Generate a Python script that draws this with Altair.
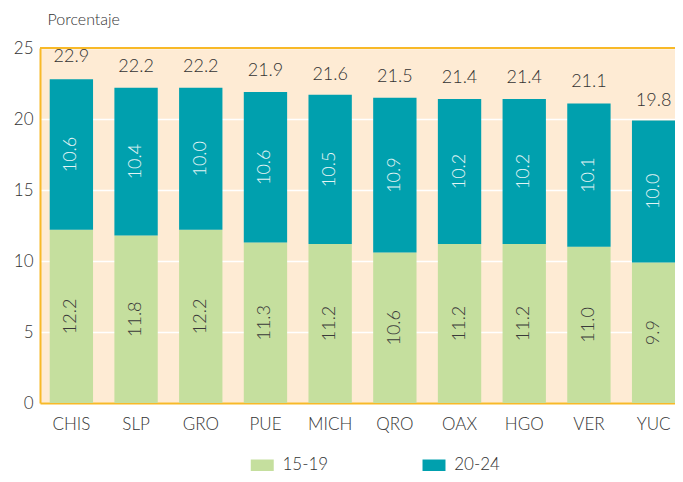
import altair as alt
import pandas as pd

estados = ["CHIS", "SLP", "GRO", "PUE", "MICH", "QRO", "OAX", "HGO", "VER", "YUC"]
g15_19 = [12.2, 11.8, 12.2, 11.3, 11.2, 10.6, 11.2, 11.2, 11.0, 9.9]
g20_24 = [10.6, 10.4, 10.0, 10.6, 10.5, 10.9, 10.2, 10.2, 10.1, 10.0]
totales = [22.9, 22.2, 22.2, 21.9, 21.6, 21.5, 21.4, 21.4, 21.1, 19.8]
grupos = ["15-19", "20-24"]
colores = ["#C5DF9E", "#00A0AE"]

rows = []
for e, a, b in zip(estados, g15_19, g20_24):
    rows.append({"estado": e, "grupo": grupos[0], "valor": a, "y0": 0.0, "y1": a})
    rows.append({"estado": e, "grupo": grupos[1], "valor": b, "y0": a, "y1": a + b})
df = pd.DataFrame(rows)
df["mid"] = (df["y0"] + df["y1"]) / 2
df_tot = pd.DataFrame({"estado": estados, "total": totales})

FONT = "Lato"
W = 300
TXT = "#333333"
BORDER = "#F8B928"

x = alt.X(
    "estado:N",
    sort=estados,
    title=None,
    scale=alt.Scale(range=[0, 645], paddingInner=0.33, paddingOuter=0.15),
    axis=alt.Axis(labelAngle=0, ticks=False, domain=True, domainColor=BORDER,
                  domainWidth=2, labelPadding=13,
                  labelFontSize=17, labelColor=TXT, labelFont=FONT,
                  labelFontWeight=W, grid=False),
)

yscale = alt.Scale(domain=[0, 25], nice=False)

bars = alt.Chart(df).mark_bar().encode(
    x=x,
    y=alt.Y(
        "y1:Q",
        scale=yscale,
        axis=alt.Axis(
            values=[0, 5, 10, 15, 20, 25], ticks=False, domain=True,
            domainColor=BORDER, domainWidth=2,
            labelFontSize=17, labelColor=TXT, labelFont=FONT, labelFontWeight=W,
            labelPadding=7,
            grid=True, gridColor="#FFFFFF", gridWidth=1.5,
            title="Porcentaje", titleAngle=0, titleAlign="left", titleBaseline="top",
            titleX=7, titleY=-37, titleFontSize=16, titleFontWeight=W,
            titleColor=TXT, titleFont=FONT,
        ),
    ),
    y2="y0:Q",
    color=alt.Color(
        "grupo:N",
        scale=alt.Scale(domain=grupos, range=colores),
        legend=alt.Legend(
            title=None, orient="none", direction="horizontal",
            legendX=213.75, legendY=408.5, padding=0,
            symbolType="M-2,-1H2V1H-2Z", symbolSize=132, symbolStrokeWidth=0,
            labelFontSize=17, labelColor=TXT, labelFont=FONT, labelFontWeight=W,
            labelOffset=11.75, columnPadding=93.75,
        ),
    ),
)

top_rule = alt.Chart(df_tot).mark_rule(color=BORDER, strokeWidth=2).encode(
    y=alt.datum(25, scale=yscale),
)

seg_text = alt.Chart(df).mark_text(
    angle=270, align="center", baseline="middle", fontSize=18, font=FONT,
    fontWeight=W,
).encode(
    x=x,
    y=alt.Y("mid:Q"),
    text=alt.Text("valor:Q", format=".1f"),
    color=alt.condition(alt.datum.grupo == "20-24", alt.value("#E4F4F5"), alt.value("#3A3A3A")),
)

tot_text = alt.Chart(df_tot).mark_text(
    baseline="bottom", dy=-12, fontSize=18, font=FONT, color=TXT, fontWeight=W,
).encode(
    x=x,
    y=alt.Y("total:Q"),
    text=alt.Text("total:Q", format=".1f"),
)

chart = alt.layer(bars, top_rule, seg_text, tot_text).properties(
    width=635, height=355,
    autosize=alt.AutoSizeParams(type="none"),
    padding={"left": 32, "top": 40, "right": 0, "bottom": 71},
).configure(font=FONT).configure_view(
    fill="#FEEBD4", strokeWidth=0,
)

chart.save("out.html", embed_options={"renderer": "svg", "actions": False})
